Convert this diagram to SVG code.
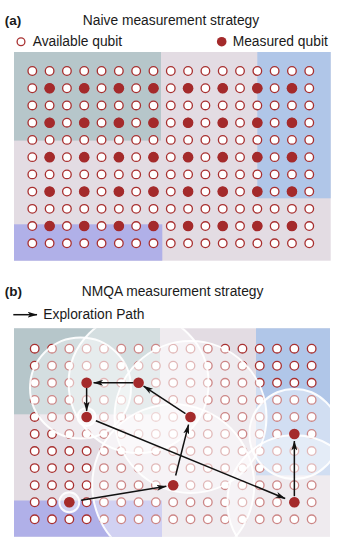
<svg xmlns="http://www.w3.org/2000/svg" xmlns:xlink="http://www.w3.org/1999/xlink" width="339" height="551" viewBox="0 0 339 551">
<style>
text{font-family:"Liberation Sans",Arial,sans-serif;fill:#1a1a1a}
.lbl{font-size:13.5px;font-weight:bold}
.t{font-size:13.8px}
.q{fill:#fff;stroke:#a83030;stroke-width:1.3}
.m{fill:#a42a2b}
.teal{fill:#b6c6ca}
.mauve{fill:#e3dce3}
.blue{fill:#b0c6e8}
.purp{fill:#b0b0e8}
.zone{fill:#fff;fill-opacity:0.42;stroke:#fff;stroke-opacity:0.92;stroke-width:2}
.arr{stroke:#111;stroke-width:1.5;fill:none;marker-end:url(#ah)}
</style>
<defs>
<marker id="ah" markerUnits="userSpaceOnUse" markerWidth="10" markerHeight="6" viewBox="0 0 10 6" refX="9.5" refY="3" orient="auto">
<path d="M0,0 L10,3 L0,6 L2.6,3 Z" fill="#111"/>
</marker>
<circle id="qc" r="4.3" class="q"/>
<circle id="mc" r="5.3" class="m"/>
<g id="row">
<use href="#qc" x="0"/><use href="#qc" x="17.31"/><use href="#qc" x="34.62"/><use href="#qc" x="51.93"/><use href="#qc" x="69.24"/><use href="#qc" x="86.55"/><use href="#qc" x="103.86"/><use href="#qc" x="121.17"/><use href="#qc" x="138.48"/><use href="#qc" x="155.79"/><use href="#qc" x="173.1"/><use href="#qc" x="190.41"/><use href="#qc" x="207.72"/><use href="#qc" x="225.03"/><use href="#qc" x="242.34"/><use href="#qc" x="259.65"/><use href="#qc" x="276.96"/>
</g>
<g id="mrow">
<use href="#mc" x="17.31"/><use href="#mc" x="51.93"/><use href="#mc" x="86.55"/><use href="#mc" x="121.17"/><use href="#mc" x="155.79"/><use href="#mc" x="190.41"/><use href="#mc" x="225.03"/><use href="#mc" x="259.65"/>
</g>
<clipPath id="clipb"><rect x="14" y="328.3" width="316" height="208.4"/></clipPath>
</defs>

<!-- Panel (a) -->
<g id="panel-a">
<text class="lbl" x="4.7" y="25">(a)</text>
<text class="t" x="82.8" y="25">Naive measurement strategy</text>
<g id="legend-a">
<circle cx="21" cy="41.7" r="3.9" class="q"/>
<text class="t" x="32.7" y="46">Available qubit</text>
<circle cx="221.7" cy="41.7" r="4.8" class="m"/>
<text class="t" x="232.7" y="46">Measured qubit</text>
</g>
<g id="bg-a">
<rect class="mauve" x="14" y="52" width="316.7" height="208.7"/>
<rect class="teal" x="14" y="52" width="147" height="88.6"/>
<rect class="blue" x="257.3" y="52" width="73.4" height="146.3"/>
<rect class="purp" x="14" y="224.3" width="148.3" height="36.4"/>
</g>
<g id="grid-a" transform="translate(32.3,0)">
<use href="#row" y="71"/><use href="#row" y="88.23"/><use href="#row" y="105.46"/><use href="#row" y="122.69"/><use href="#row" y="139.92"/><use href="#row" y="157.15"/><use href="#row" y="174.38"/><use href="#row" y="191.61"/><use href="#row" y="208.84"/><use href="#row" y="226.07"/><use href="#row" y="243.3"/>
</g>
<g id="measured-a" transform="translate(32.3,0)">
<use href="#mrow" y="88.23"/><use href="#mrow" y="122.69"/><use href="#mrow" y="157.15"/><use href="#mrow" y="191.61"/><use href="#mrow" y="226.07"/>
</g>
</g>

<!-- Panel (b) -->
<g id="panel-b">
<text class="lbl" x="4.7" y="295.5">(b)</text>
<text class="t" x="81.7" y="295.5">NMQA measurement strategy</text>
<g id="legend-b">
<line class="arr" x1="13.3" y1="314.7" x2="37" y2="314.7"/>
<text class="t" x="43.3" y="319">Exploration Path</text>
</g>
<g id="bg-b">
<rect class="mauve" x="14" y="328.3" width="316" height="208.4"/>
<rect class="teal" x="14" y="328.3" width="146" height="86"/>
<rect class="blue" x="256" y="328.3" width="74" height="147"/>
<rect class="purp" x="14" y="500.5" width="148" height="36.2"/>
</g>
<g id="grid-b" transform="translate(34.7,0)">
<use href="#row" y="348.7"/><use href="#row" y="365.76"/><use href="#row" y="382.82"/><use href="#row" y="399.88"/><use href="#row" y="416.94"/><use href="#row" y="434"/><use href="#row" y="451.06"/><use href="#row" y="468.12"/><use href="#row" y="485.18"/><use href="#row" y="502.24"/><use href="#row" y="519.3"/>
</g>
<g id="zones" clip-path="url(#clipb)">
<circle class="zone" cx="80.5" cy="388" r="50.5"/>
<circle class="zone" cx="138.6" cy="383" r="70"/>
<circle class="zone" cx="190.5" cy="417" r="76"/>
<circle class="zone" cx="173.2" cy="485.2" r="81"/>
<circle class="zone" cx="294.4" cy="434" r="45"/>
<circle class="zone" cx="294.4" cy="502.2" r="67"/>
<circle class="zone" cx="69.3" cy="502.2" r="10"/>
<circle class="zone" cx="86.6" cy="416.9" r="9"/>
</g>
<g id="connectors">
<line class="arr" x1="81.16" y1="500.29" x2="166.27" y2="486.31"/>
<line class="arr" x1="175.64" y1="475.49" x2="188.52" y2="424.69"/>
<line class="arr" x1="185.48" y1="413.65" x2="143.57" y2="386.11"/>
<line class="arr" x1="133.5" y1="382.82" x2="93.6" y2="382.82"/>
<line class="arr" x1="86.63" y1="387.8" x2="86.63" y2="410.9"/>
<line class="arr" x1="95.88" y1="420.74" x2="285.1" y2="498.44"/>
<line class="arr" x1="294.35" y1="496.2" x2="294.35" y2="441"/>
</g>
<g id="n1"><use href="#mc" x="86.63" y="382.82"/></g>
<g id="n2"><use href="#mc" x="138.56" y="382.82"/></g>
<g id="n3"><use href="#mc" x="86.63" y="416.94"/></g>
<g id="n4"><use href="#mc" x="190.49" y="416.94"/></g>
<g id="n5"><use href="#mc" x="173.18" y="485.18"/></g>
<g id="n6"><use href="#mc" x="69.32" y="502.24"/></g>
<g id="n7"><use href="#mc" x="294.35" y="434"/></g>
<g id="n8"><use href="#mc" x="294.35" y="502.24"/></g>
</g>
</svg>
